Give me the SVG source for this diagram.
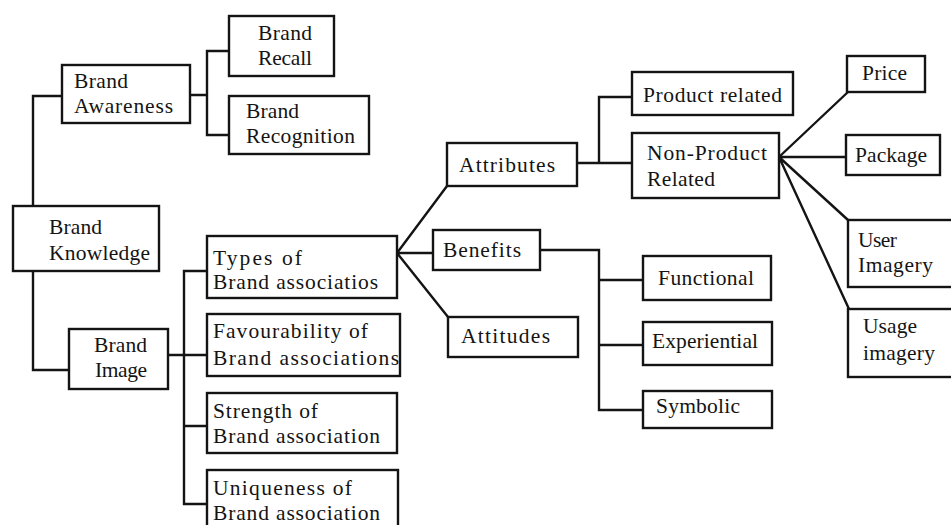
<svg xmlns="http://www.w3.org/2000/svg" width="951" height="525" viewBox="0 0 951 525">
<style>
.b{fill:#fff;stroke:#141414;stroke-width:2.4}
.c{fill:none;stroke:#141414;stroke-width:2.4;stroke-linejoin:miter}
text{font-family:"Liberation Serif","Times New Roman",serif;font-size:21.5px;fill:#141414}
</style>
<rect width="951" height="525" fill="#fff"/>
<g id="connectors">
<path class="c" d="M190,95 H207 M229,51 H207 V135 H229"/>
<path class="c" d="M62,96 H33 V370 H69"/>
<path class="c" d="M168,355 H207 M207,271 H184 V504 H207 M184,426 H207"/>
<path class="c" d="M397,253 L447,186 M397,253 H433 M397,253 L448,317"/>
<path class="c" d="M577,163 H632 M632,97 H599 V163"/>
<path class="c" d="M540,250 H599 V410 H643 M599,280 H643 M599,345 H643"/>
<path class="c" d="M779,157 L848,92 M779,157 H846 M779,157 L848,220 M779,157 L849,309"/>
</g>
<g id="brand-recall"><rect class="b" x="229" y="16" width="105" height="60"/><text x="258" y="40" textLength="54" lengthAdjust="spacing">Brand</text><text x="258" y="65" textLength="54" lengthAdjust="spacing">Recall</text></g>
<g id="brand-awareness"><rect class="b" x="62" y="65" width="128" height="58"/><text x="74" y="88" textLength="54" lengthAdjust="spacing">Brand</text><text x="74" y="113" textLength="99" lengthAdjust="spacing">Awareness</text></g>
<g id="brand-recognition"><rect class="b" x="229" y="96" width="140" height="58"/><text x="246" y="118" textLength="53" lengthAdjust="spacing">Brand</text><text x="246" y="143" textLength="109" lengthAdjust="spacing">Recognition</text></g>
<g id="brand-knowledge"><rect class="b" x="13" y="206" width="146" height="65"/><text x="49" y="234" textLength="53" lengthAdjust="spacing">Brand</text><text x="49" y="260" textLength="101" lengthAdjust="spacing">Knowledge</text></g>
<g id="brand-image"><rect class="b" x="69" y="329" width="99" height="60"/><text x="94" y="352" textLength="53" lengthAdjust="spacing">Brand</text><text x="95" y="377" textLength="52" lengthAdjust="spacing">Image</text></g>
<g id="types"><rect class="b" x="207" y="236" width="190" height="62"/><text x="213" y="265" textLength="89" lengthAdjust="spacing">Types of</text><text x="213" y="289" textLength="165" lengthAdjust="spacing">Brand associatios</text></g>
<g id="favourability"><rect class="b" x="207" y="314" width="193" height="62"/><text x="213" y="338" textLength="155" lengthAdjust="spacing">Favourability of</text><text x="213" y="365" textLength="186" lengthAdjust="spacing">Brand associations</text></g>
<g id="strength"><rect class="b" x="207" y="393" width="190" height="60"/><text x="213" y="418" textLength="105" lengthAdjust="spacing">Strength of</text><text x="213" y="443" textLength="167" lengthAdjust="spacing">Brand association</text></g>
<g id="uniqueness"><rect class="b" x="207" y="470" width="191" height="62"/><text x="213" y="495" textLength="139" lengthAdjust="spacing">Uniqueness of</text><text x="213" y="520" textLength="167" lengthAdjust="spacing">Brand association</text></g>
<g id="attributes"><rect class="b" x="447" y="143" width="130" height="43"/><text x="459" y="172" textLength="96" lengthAdjust="spacing">Attributes</text></g>
<g id="benefits"><rect class="b" x="433" y="230" width="107" height="40"/><text x="443" y="257" textLength="78" lengthAdjust="spacing">Benefits</text></g>
<g id="attitudes"><rect class="b" x="448" y="317" width="130" height="40"/><text x="461" y="343" textLength="89" lengthAdjust="spacing">Attitudes</text></g>
<g id="product-related"><rect class="b" x="632" y="72" width="161" height="43"/><text x="643" y="102" textLength="139" lengthAdjust="spacing">Product related</text></g>
<g id="non-product-related"><rect class="b" x="632" y="133" width="147" height="65"/><text x="647" y="160" textLength="120" lengthAdjust="spacing">Non-Product</text><text x="647" y="186" textLength="68" lengthAdjust="spacing">Related</text></g>
<g id="price"><rect class="b" x="847" y="56" width="78" height="36"/><text x="862" y="80" textLength="45" lengthAdjust="spacing">Price</text></g>
<g id="package"><rect class="b" x="846" y="135" width="94" height="40"/><text x="855" y="162" textLength="72" lengthAdjust="spacing">Package</text></g>
<g id="user-imagery"><rect class="b" x="848" y="220" width="110" height="67"/><text x="858" y="247" textLength="39" lengthAdjust="spacing">User</text><text x="858" y="272" textLength="75" lengthAdjust="spacing">Imagery</text></g>
<g id="usage-imagery"><rect class="b" x="848" y="309" width="110" height="68"/><text x="863" y="333" textLength="54" lengthAdjust="spacing">Usage</text><text x="863" y="360" textLength="72" lengthAdjust="spacing">imagery</text></g>
<g id="functional"><rect class="b" x="643" y="256" width="128" height="44"/><text x="658" y="285" textLength="96" lengthAdjust="spacing">Functional</text></g>
<g id="experiential"><rect class="b" x="643" y="322" width="129" height="43"/><text x="652" y="348" textLength="106" lengthAdjust="spacing">Experiential</text></g>
<g id="symbolic"><rect class="b" x="643" y="391" width="129" height="37"/><text x="656" y="413" textLength="84" lengthAdjust="spacing">Symbolic</text></g>
</svg>
